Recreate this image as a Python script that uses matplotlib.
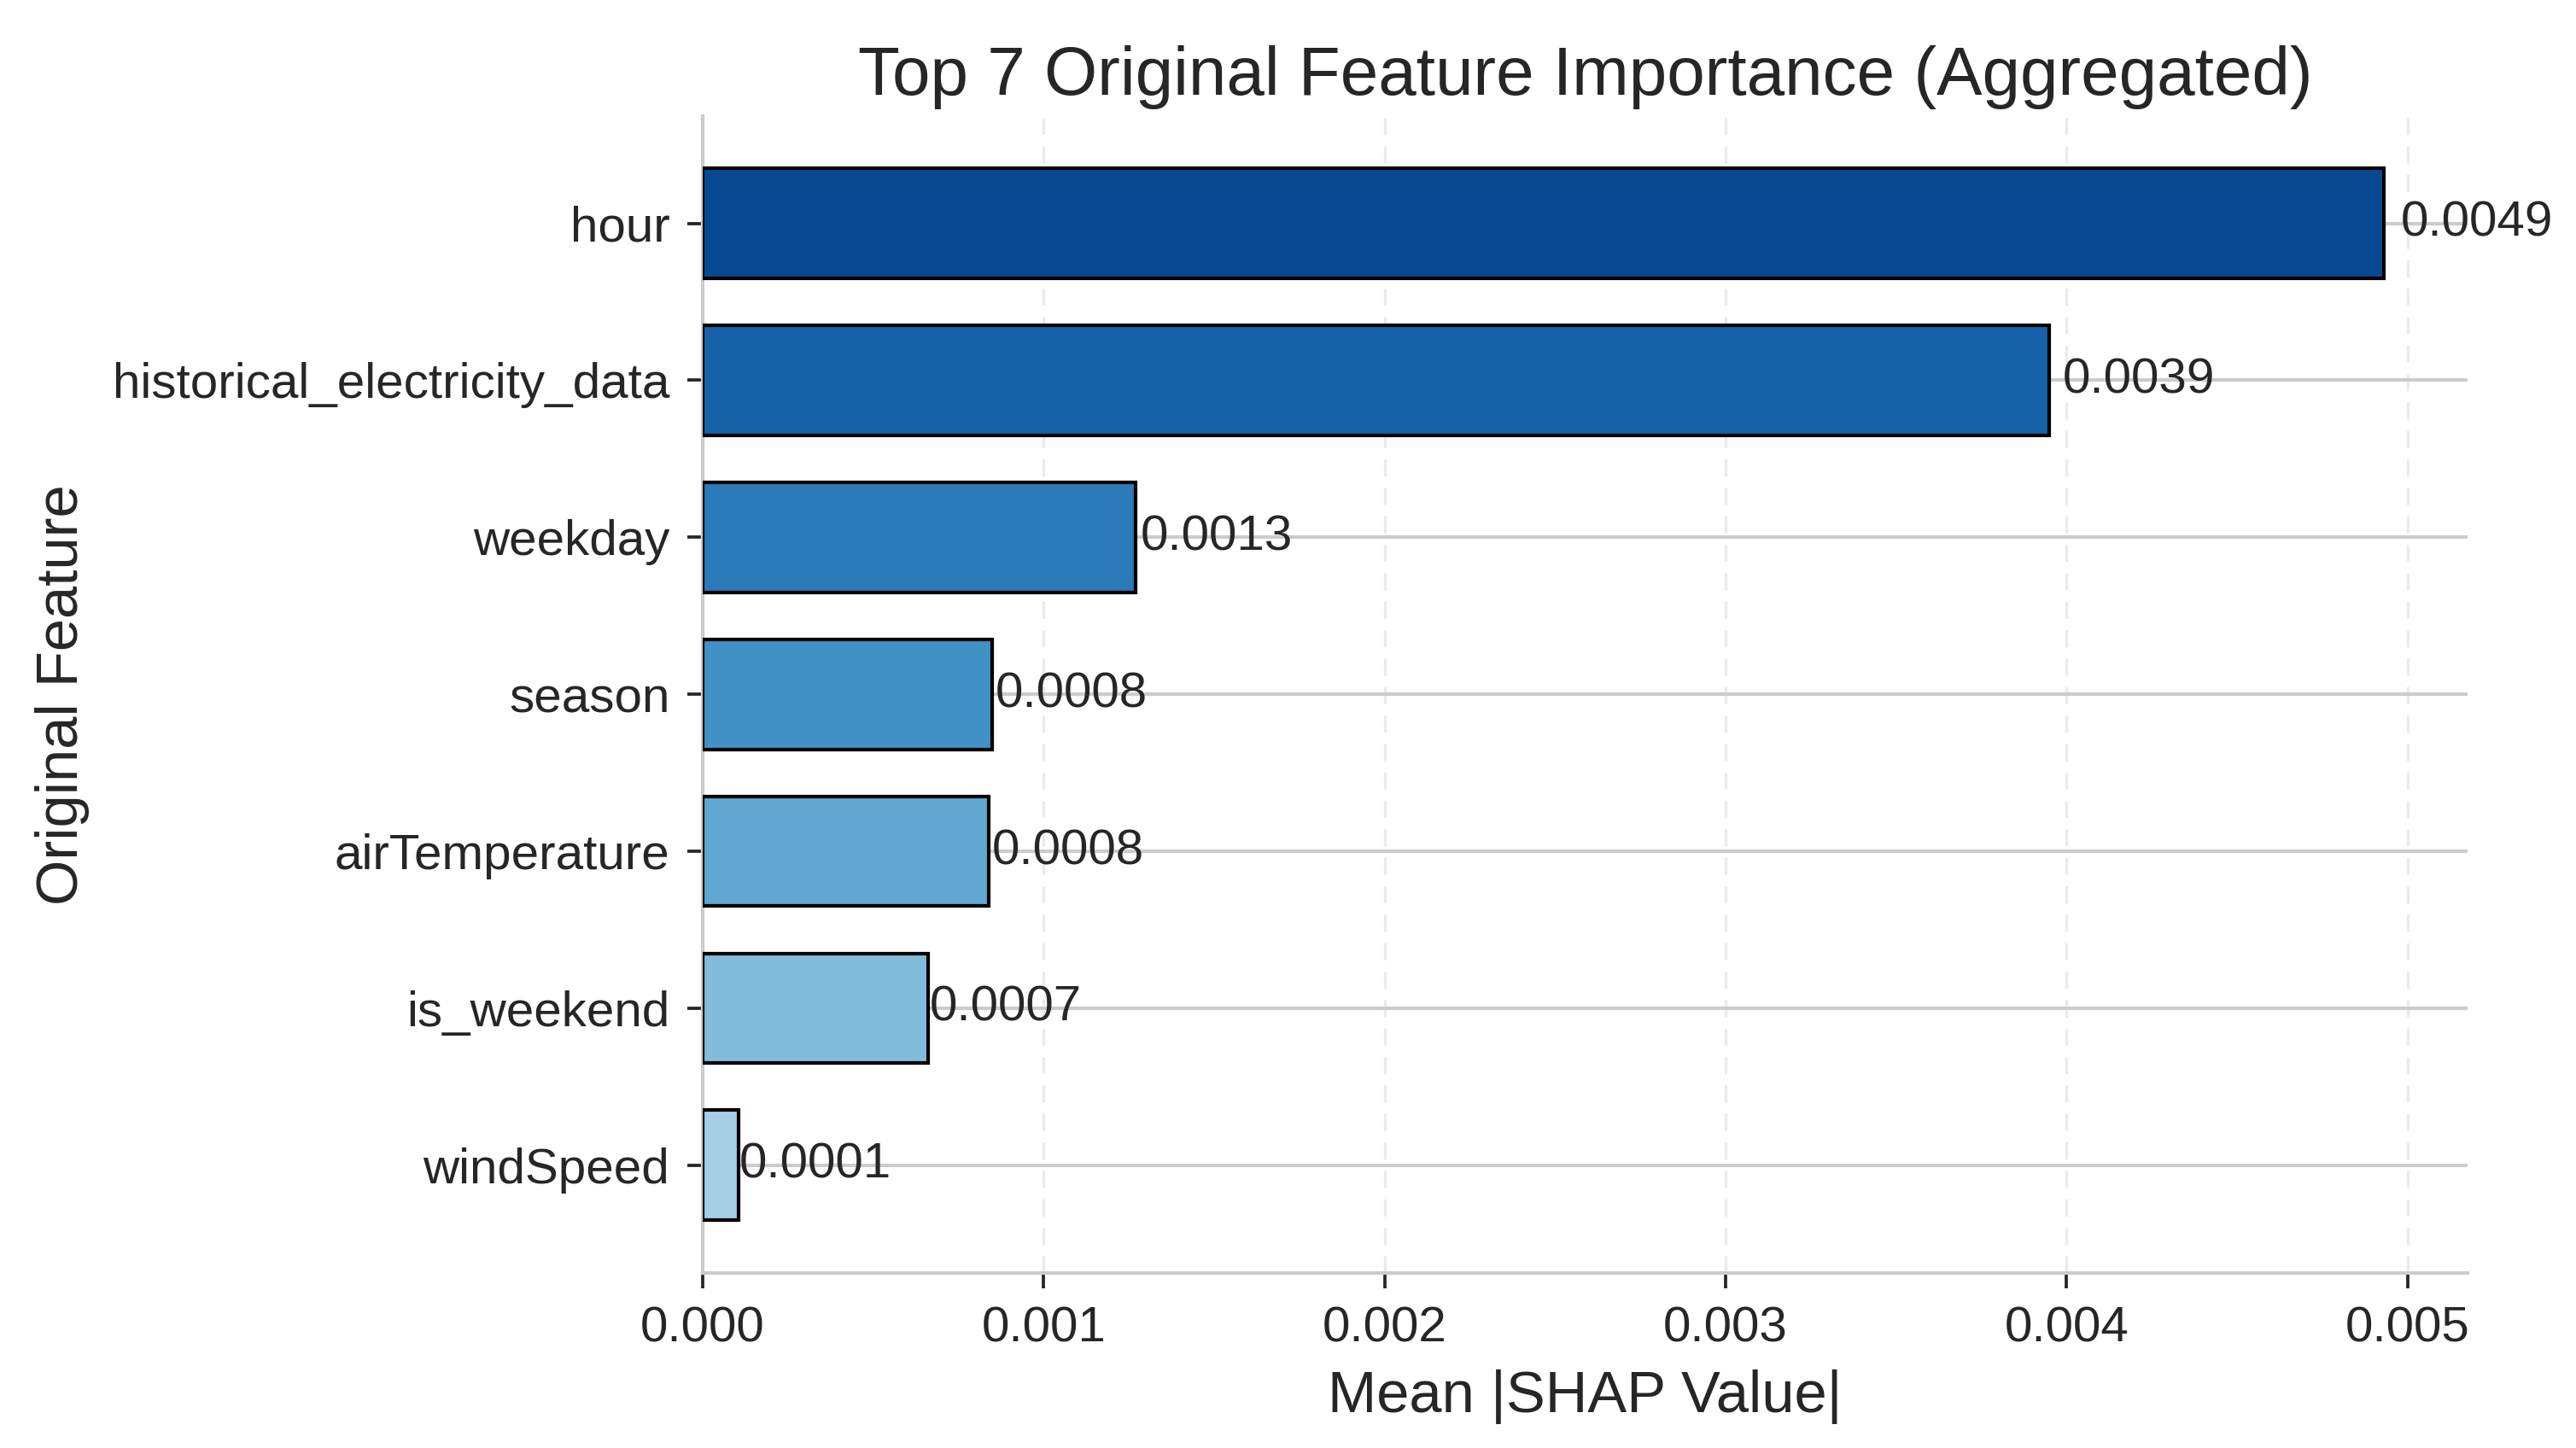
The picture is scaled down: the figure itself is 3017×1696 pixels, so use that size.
import numpy as np
import matplotlib
matplotlib.use("Agg")
import matplotlib.pyplot as plt

# Aggregated mean |SHAP| per original feature, top 7
features = ["hour", "historical_electricity_data", "weekday", "season",
            "airTemperature", "is_weekend", "windSpeed"]
importance = [0.00493, 0.003948, 0.00127, 0.00085, 0.00084, 0.00066, 0.000106]

TITLE = "Top 7 Original Feature Importance (Aggregated)"
XLABEL = "Mean |SHAP Value|"
YLABEL = "Original Feature"

plt.rcParams["font.family"] = ["Liberation Sans", "DejaVu Sans"]
plt.rcParams["text.color"] = "#262626"
plt.rcParams["axes.labelcolor"] = "#262626"
plt.rcParams["xtick.color"] = "#262626"
plt.rcParams["ytick.color"] = "#262626"

fig = plt.figure(figsize=(3017 / 300, 1696 / 300), dpi=300)
ax = fig.add_axes([0.2728, 0.121, 0.958 - 0.2728, 0.920 - 0.121])

n = len(features)
y = np.arange(n)[::-1]
colors = plt.cm.Blues(np.linspace(0.9, 0.35, n))
ax.barh(y, importance, height=0.7, color=colors, edgecolor="black", linewidth=1.0, zorder=3)

vmax = max(importance)
for yi, v in zip(y, importance):
    ax.text(v * 1.01, yi, f"{v:.4f}", va="center", ha="left", fontsize=14, zorder=4)

xticks = [0, 0.001, 0.002, 0.003, 0.004, 0.005]
ax.set_yticks(y)
ax.set_yticklabels(features, fontsize=14)
ax.set_xlim(0, vmax * 1.05)
ax.set_xticks(xticks)
ax.set_xticklabels([f"{t:.3f}" for t in xticks], fontsize=14)
ax.tick_params(axis="both", length=4.3, width=0.9, pad=5)

ax.grid(axis="y", color="#cccccc", linewidth=1.0, linestyle="-", zorder=0)
ax.grid(axis="x", color="#ebebeb", linewidth=0.8, linestyle=(0, (6, 4)), zorder=0)
ax.set_axisbelow(True)

for side in ["top", "right"]:
    ax.spines[side].set_visible(False)
for side in ["left", "bottom"]:
    ax.spines[side].set_color("#cccccc")
    ax.spines[side].set_linewidth(1.0)

ax.set_title(TITLE, fontsize=19.2)
ax.set_xlabel(XLABEL, fontsize=16.5, labelpad=5)
ax.set_ylabel(YLABEL, fontsize=16.5, labelpad=6.5)

fig.savefig("out.png", dpi=300)
